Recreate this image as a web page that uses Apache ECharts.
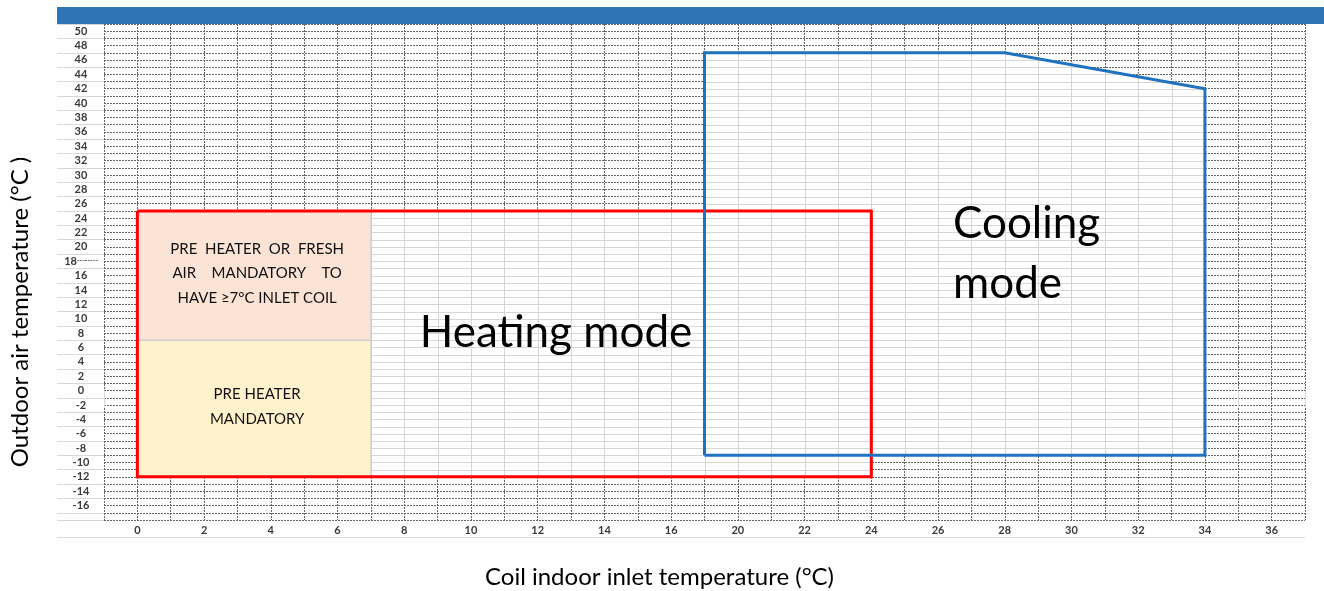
<!DOCTYPE html>
<html>
<head>
<meta charset="utf-8">
<script src="https://cdn.jsdelivr.net/npm/echarts@6/dist/echarts.min.js"></script>
<style>
html,body{margin:0;padding:0;background:#fff;}
#chart{width:1324px;height:591px;}
</style>
</head>
<body>
<div id="chart"></div>
<script>
// Column headers of the sheet (x axis cells) – as shown in the source sheet
const xCategories = ['-1','0','1','2','3','4','5','6','7','8','9','10','11','12','13','14','15','16',
  '18','20','21','22','23','24','25','26','27','28','29','30','31','32','33','34','35','36','37'];
// Row values (y axis)
const yMin = -18, yMax = 51;
const yLabelMin = -16, yLabelMax = 50;

// Operating envelopes: [coil inlet temperature, outdoor air temperature]
const heatingOutline = [['0', 25], ['24', 25], ['24', -12], ['0', -12], ['0', 25]];
const coolingOutline = [['18', -9], ['18', 47], ['28', 47], ['34', 42], ['34', -9], ['18', -9]];

// Zones: [x from, x to, y from, y to]
const preHeatFreshZone = ['0', '7', 7, 25];
const preHeatZone = ['0', '7', -12, 7];
const zoneTexts = [
  'PRE  HEATER  OR  FRESH\nAIR    MANDATORY    TO\nHAVE ≥7°C INLET COIL',
  'PRE HEATER\nMANDATORY'
];

const yRows = [];
for (let v = yMin; v <= yMax; v++) yRows.push(String(v));

const FONT = 'Lato, "Open Sans", sans-serif';
const chart = echarts.init(document.getElementById('chart'), null, {renderer: 'canvas'});

function span(poly, c, vertical) {
  const a = vertical ? 0 : 1, b = vertical ? 1 : 0;
  let lo = Infinity, hi = -Infinity;
  for (let i = 0; i < poly.length; i++) {
    const p = poly[i], q = poly[(i + 1) % poly.length];
    if (Math.abs(p[a] - q[a]) < 1e-6) continue;
    const t = (c - p[a]) / (q[a] - p[a]);
    if (t < -1e-6 || t > 1 + 1e-6) continue;
    const v = p[b] + t * (q[b] - p[b]);
    lo = Math.min(lo, v); hi = Math.max(hi, v);
  }
  return lo < hi ? [lo, hi] : null;
}

const sheetShapes = [heatingOutline, coolingOutline];

const option = {
  animation: false,
  grid: {left: 104, right: 19, top: 24, bottom: 71, containLabel: false, outerBoundsMode: 'none'},
  graphic: [
    {type: 'rect', shape: {x: 57, y: 7, width: 1267, height: 17}, style: {fill: '#2E75B6'}},
    {type: 'line', shape: {x1: 57, y1: 537.5, x2: 1305, y2: 537.5}, style: {stroke: '#d9d9d9', lineWidth: 1}},
    {type: 'line', shape: {x1: 57, y1: 520.5, x2: 104, y2: 520.5}, style: {stroke: '#d9d9d9', lineWidth: 1}},
    {type: 'text', x: 556, y: 333, z: 20,
      style: {text: 'Heating mode', fontSize: 44, fontFamily: FONT, fill: '#000',
        align: 'center', verticalAlign: 'middle', textAlign: 'center', textVerticalAlign: 'middle'}},
    {type: 'text', x: 953, y: 254, z: 20,
      style: {text: 'Cooling\nmode', fontSize: 44, lineHeight: 60, fontFamily: FONT, fill: '#000',
        align: 'left', verticalAlign: 'middle', textAlign: 'left', textVerticalAlign: 'middle'}}
  ],
  xAxis: {
    type: 'category', data: xCategories, boundaryGap: false,
    axisLine: {show: false},
    axisTick: {show: true, interval: (i) => i % 2 === 0, length: 17, lineStyle: {color: '#d9d9d9'}},
    axisLabel: {interval: (i) => i % 2 === 1, margin: 5, fontFamily: FONT, fontWeight: 'bold', fontSize: 11, color: '#3a3a3a'},
    splitLine: {show: true, interval: 0, lineStyle: {color: '#666', type: [2, 1], width: 1}},
    name: 'Coil indoor inlet temperature (°C)', nameLocation: 'middle', nameGap: 45,
    nameTextStyle: {fontFamily: FONT, fontSize: 24, color: '#000', padding: [0, 90, 0, 0]}
  },
  yAxis: [{
    type: 'value', min: yMin, max: yMax, interval: 1,
    axisLine: {show: false}, axisTick: {show: false},
    axisLabel: {
      margin: 23, align: 'center', fontFamily: FONT, fontWeight: 'bold', fontSize: 11, color: '#3a3a3a',
      formatter: (v) => (v % 2 === 0 && v >= yLabelMin && v <= yLabelMax) ? (v === 18 ? '18{d|--------}' : String(v)) : '',
      rich: {d: {fontSize: 7, color: '#555', fontFamily: FONT}}
    },
    splitLine: {show: true, lineStyle: {color: '#666', type: [2, 1], width: 1}},
    name: 'Outdoor air temperature (°C )', nameLocation: 'middle', nameGap: 72, nameRotate: 90,
    nameTextStyle: {fontFamily: FONT, fontSize: 24, color: '#000', padding: [0, 80, 0, 0]}
  }, {
    type: 'category', data: yRows, boundaryGap: false, position: 'left',
    axisLine: {show: false}, axisLabel: {show: false}, splitLine: {show: false},
    axisTick: {show: true, interval: (i, v) => Math.abs(Number(v)) % 2 === 1, length: 47, lineStyle: {color: '#d9d9d9'}}
  }],
  series: [
    {
      type: 'custom', name: 'sheet', z: 1, silent: true,
      data: sheetShapes.map((s, i) => [i, 0]),
      renderItem: function (params, api) {
        const shape = sheetShapes[params.dataIndex];
        const poly = shape.map(p => api.coord([xCategories.indexOf(p[0]), p[1]]));
        const children = [{type: 'polygon', shape: {points: poly}, style: {fill: '#fff'}}];
        xCategories.forEach((c, i) => {
          const x = Math.round(api.coord([i, 0])[0]) + 0.5;
          const s = span(poly, api.coord([i, 0])[0], true);
          if (s) children.push({type: 'line', shape: {x1: x, y1: s[0], x2: x, y2: s[1]}, style: {stroke: '#d6d6d6', lineWidth: 1}});
        });
        for (let v = yMin; v <= yMax; v++) {
          const yy = api.coord([0, v])[1];
          const y = Math.round(yy) + 0.5;
          const s = span(poly, yy, false);
          if (s) children.push({type: 'line', shape: {x1: s[0], y1: y, x2: s[1], y2: y}, style: {stroke: '#d6d6d6', lineWidth: 1}});
        }
        return {type: 'group', children: children};
      }
    },
    {
      type: 'custom', name: 'zones', z: 2, silent: true,
      encode: {x: [0, 1], y: [2, 3]},
      data: [preHeatFreshZone, preHeatZone].map(z => [xCategories.indexOf(z[0]), xCategories.indexOf(z[1]), z[2], z[3]]),
      renderItem: function (params, api) {
        const p0 = api.coord([api.value(0), api.value(3)]);
        const p1 = api.coord([api.value(1), api.value(2)]);
        const fill = params.dataIndex === 0 ? '#FBE3D6' : '#FFF2CC';
        return {type: 'group', children: [
          {type: 'rect', shape: {x: p0[0], y: p0[1], width: p1[0] - p0[0], height: p1[1] - p0[1]},
            style: {fill: fill, stroke: '#c8c8c8', lineWidth: 1}},
          {type: 'text', x: (p0[0] + p1[0]) / 2 + 3, y: (p0[1] + p1[1]) / 2 - 2,
            style: {text: zoneTexts[params.dataIndex], fontSize: 15, fontFamily: FONT, lineHeight: 24.5, fill: '#111',
              align: 'center', verticalAlign: 'middle'}}
        ]};
      }
    },
    {
      type: 'line', name: 'Heating mode', data: heatingOutline, z: 5, silent: true,
      showSymbol: false, symbol: 'none',
      lineStyle: {color: '#FF0000', width: 3, join: 'miter'}
    },
    {
      type: 'line', name: 'Cooling mode', data: coolingOutline, z: 5, silent: true,
      showSymbol: false, symbol: 'none',
      lineStyle: {color: '#1F72C0', width: 3, join: 'miter'}
    }
  ]
};
chart.setOption(option);
</script>
</body>
</html>
